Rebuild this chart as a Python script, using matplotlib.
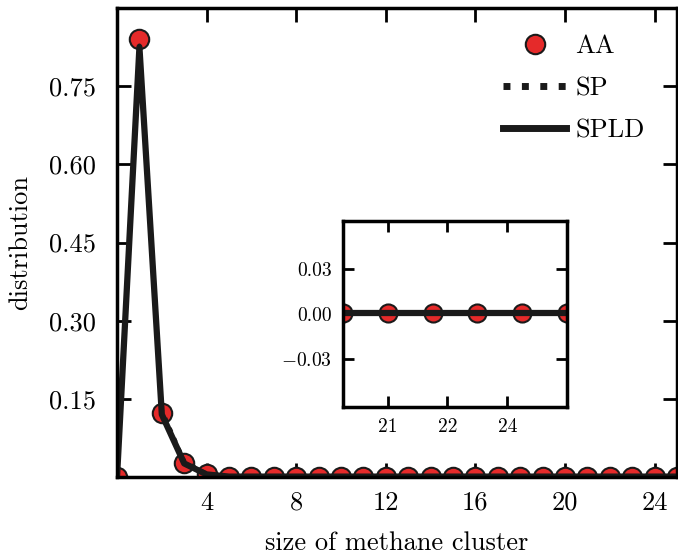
import matplotlib
matplotlib.use('Agg')
from matplotlib import pyplot as plt

plt.rcParams['font.family'] = 'serif'
plt.rcParams['font.serif'] = ['cmr10']
plt.rcParams['mathtext.fontset'] = 'cm'
plt.rcParams['axes.formatter.use_mathtext'] = True
plt.rcParams['axes.unicode_minus'] = True

# cluster sizes and distributions
sizes = list(range(0, 26))
aa = [0.0, 0.840, 0.123, 0.027, 0.005] + [0.0008] * 21
sp = [0.0, 0.828, 0.128, 0.030, 0.006] + [0.0008] * 21
spld = [0.0, 0.825, 0.120, 0.026, 0.005] + [0.0008] * 21

x_ticks = [4, 8, 12, 16, 20, 24]
y_ticks = [0.15, 0.30, 0.45, 0.60, 0.75]
y_labels = ['0.15', '0.30', '0.45', '0.60', '0.75']

# inset
in_ticks = [21, 22.33, 23.67]
in_labels = ['21', '22', '24']
in_yticks = [-0.03, 0.0, 0.03]
in_ylabels = [r'$-0.03$', '0.00', '0.03']

red = '#e52a2a'

fig = plt.figure(figsize=(6.78, 5.57), dpi=100)
ax = fig.add_axes([0.1726, 0.1436, 0.826, 0.842])

ax.plot(sizes, aa, 'o', color=red, markeredgecolor='#1a1a1a', markeredgewidth=1.5,
        markersize=14, label='AA', zorder=2)
ax.plot(sizes, sp, ':', color='#1a1a1a', lw=3, label='SP', zorder=3)
ax.plot(sizes, spld, '-', color='#1a1a1a', lw=4.5, label='SPLD', zorder=3)

ax.set_xlim(0, 25)
ax.set_ylim(0, 0.9)
ax.set_xticks(x_ticks)
ax.set_xticklabels([str(t) for t in x_ticks])
ax.set_yticks(y_ticks)
ax.set_yticklabels(y_labels)
ax.tick_params(direction='in', length=10, width=2, top=True, right=True,
               labelsize=19)
ax.tick_params(axis='y', pad=15)
ax.tick_params(axis='x', pad=10)
for s in ax.spines.values():
    s.set_linewidth(2.5)
    s.set_zorder(4)
ax.set_xlabel('size of methane cluster', fontsize=19, labelpad=12)
ax.set_ylabel('distribution', fontsize=19, labelpad=12)
leg = ax.legend(loc='upper right', frameon=False, fontsize=19, handlelength=2.4,
                handletextpad=0.35, labelspacing=0.7, numpoints=1,
                bbox_to_anchor=(0.985, 0.995))
for h in leg.legend_handles[1:]:
    h.set_linewidth(5)

ins = fig.add_axes([0.506, 0.269, 0.330, 0.334])
ins.plot(sizes, aa, 'o', color=red, markeredgecolor='#1a1a1a', markeredgewidth=1.5,
         markersize=13, zorder=2)
ins.plot(sizes, sp, ':', color='#1a1a1a', lw=3, zorder=3)
ins.plot(sizes, spld, '-', color='#1a1a1a', lw=4.5, zorder=3)
ins.set_xlim(20, 25)
ins.set_ylim(-0.062, 0.062)
ins.set_xticks(in_ticks)
ins.set_xticklabels(in_labels)
ins.set_yticks(in_yticks)
ins.set_yticklabels(in_ylabels)
ins.tick_params(direction='in', length=8, width=2, top=True, right=True,
                labelsize=14, pad=8)
for s in ins.spines.values():
    s.set_linewidth(2.5)
    s.set_zorder(4)

fig.savefig('out.png', dpi=100)
